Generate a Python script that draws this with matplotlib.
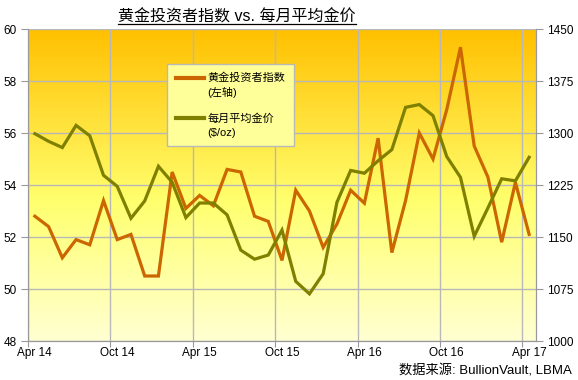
import numpy as np
import matplotlib
matplotlib.use("Agg")
import matplotlib.pyplot as plt
from matplotlib.colors import LinearSegmentedColormap
from matplotlib.lines import Line2D
from matplotlib.legend_handler import HandlerLine2D

plt.rcParams['font.family'] = ['Liberation Sans', 'Noto Sans CJK SC', 'DejaVu Sans']

# monthly data, Apr 2014 .. Apr 2017
investor_index = [52.8, 52.4, 51.2, 51.9, 51.7, 53.4, 51.9, 52.1, 50.5, 50.5,
                  54.5, 53.1, 53.6, 53.2, 54.6, 54.5, 52.8, 52.6, 51.1, 53.8,
                  53.0, 51.6, 52.5, 53.8, 53.3, 55.8, 51.4, 53.4, 56.0, 55.0,
                  56.9, 59.3, 55.5, 54.3, 51.8, 54.1, 52.1]
gold_price = [1299, 1288, 1279, 1311, 1296, 1239, 1223, 1177, 1202, 1252,
              1229, 1178, 1199, 1199, 1182, 1131, 1118, 1124, 1160, 1086,
              1068, 1097, 1200, 1246, 1242, 1260, 1276, 1337, 1341, 1325,
              1266, 1236, 1151, 1192, 1234, 1231, 1265]
tick_labels = ['Apr 14', 'Oct 14', 'Apr 15', 'Oct 15', 'Apr 16', 'Oct 16', 'Apr 17']

x = np.arange(len(investor_index)) + 0.5


class TopLineHandler(HandlerLine2D):
    # put the legend line next to the first line of a two-line label
    def create_artists(self, *args, **kwargs):
        arts = super().create_artists(*args, **kwargs)
        for a in arts:
            a.set_ydata(np.asarray(a.get_ydata()) + 5.5)
        return arts


fig = plt.figure(figsize=(5.78, 3.80), dpi=100)
ax = fig.add_axes([28/578, 1-341/380, (536-28)/578, (341-29)/380])
ax2 = ax.twinx()

# gradient background
cmap = LinearSegmentedColormap.from_list('bg', [(0, '#FFFFD2'), (0.45, '#FFFF6E'), (1.0, '#FFC000')])
grad = np.linspace(0, 1, 256).reshape(-1, 1)
ax.imshow(grad, cmap=cmap, origin='lower', extent=[0, 1, 0, 1], aspect='auto',
          transform=ax.transAxes, zorder=0)

ax.set_xlim(0, 37)
ax.set_ylim(48, 60)
ax2.set_ylim(1000, 1450)
ax.set_yticks(np.arange(48, 61, 2))
ax2.set_yticks(np.arange(1000, 1451, 75))

ax.set_xticks(np.arange(0, 37, 6))
ax.set_xticklabels([])
ax.set_xticks(np.arange(0, 37, 6) + 0.5, minor=True)
ax.set_xticklabels(tick_labels, minor=True)
ax.tick_params(axis='x', which='major', length=4, color='#999999', direction='out')
ax.tick_params(axis='x', which='minor', length=0, labelsize=8.5, pad=4)
ax.tick_params(axis='y', length=5, color='#999999', labelsize=8.5, pad=3)
ax2.tick_params(axis='y', length=5, color='#999999', labelsize=8.5, pad=3)

ax.grid(True, which='major', color='#B8B8B8', lw=1)
ax.set_axisbelow(False)
for a in (ax, ax2):
    for s in a.spines.values():
        s.set_color('#999999')
    a.spines['top'].set_visible(False)

ax.plot(x, investor_index, color='#CC6600', lw=2.3, zorder=3, solid_joinstyle='miter')
ax2.plot(x, gold_price, color='#808000', lw=2.3, zorder=3, solid_joinstyle='miter')
ax2.patch.set_visible(False)

handles = [Line2D([], [], color='#CC6600', lw=3), Line2D([], [], color='#808000', lw=3)]
leg = ax2.legend(handles, ['黄金投资者指数\n(左轴)', '每月平均金价\n($/oz)'],
                 loc='upper left', bbox_to_anchor=(0.274, 0.888), borderaxespad=0,
                 fontsize=8, fancybox=False, framealpha=1, facecolor='#FFFF99',
                 edgecolor='#B8B8B8', handlelength=2.6, handletextpad=0.3,
                 labelspacing=1.4, borderpad=0.75,
                 handler_map={Line2D: TopLineHandler()})
leg.get_frame().set_linewidth(1)
for t in leg.get_texts():
    t.set_linespacing(1.45)

title = fig.text(237/578, 1-17/380, '黄金投资者指数 vs. 每月平均金价', ha='center', va='center',
                 fontsize=11.5)
fig.text(572/578, 1-371/380, '数据来源: BullionVault, LBMA', ha='right', va='center', fontsize=9.5)

# underline the title
fig.canvas.draw()
bb = title.get_window_extent().transformed(fig.transFigure.inverted())
fig.add_artist(Line2D([bb.x0, bb.x1], [bb.y0 + 0.002, bb.y0 + 0.002], color='black', lw=0.9,
                      transform=fig.transFigure))

fig.savefig('out.png', dpi=100)
